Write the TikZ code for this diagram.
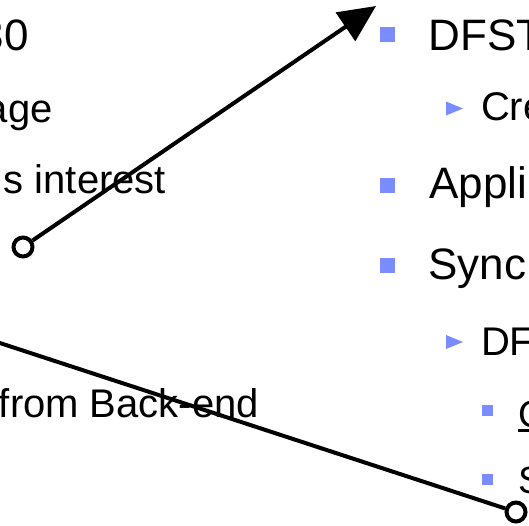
\documentclass[tikz,border=0pt]{standalone}
\usepackage{fontspec}
\setmainfont{Liberation Sans}
\usetikzlibrary{arrows.meta}
\definecolor{bulletblue}{RGB}{122,140,255}

\begin{document}
\begin{tikzpicture}[x=1pt,y=-1pt,
  txt/.style={inner sep=0pt, outer sep=0pt, font=\fontsize{#1}{#1}\selectfont},
  lefttxt/.style={txt=#1, anchor=base east},
  righttxt/.style={txt=#1, anchor=base west},
  sqbullet/.style={fill=bulletblue},
  tribullet/.style={fill=bulletblue},
  conn/.style={line width=4pt, draw=black},
  pin/.style={circle, draw=black, fill=white, line width=4pt,
    minimum size=19pt, inner sep=0pt},
  bigtip/.style={-{Triangle[length=37pt,width=34pt]}}
]
\clip (0,0) rectangle (529,525);

% left column of text
\node[lefttxt=44] (l1) at (28.5,50)  {30};
\node[lefttxt=40] (l2) at (52.5,122) {age};
\node[lefttxt=40] (l3) at (166,193)  {s interest};
\node[lefttxt=40] (l4) at (259,417)  {from Back-end};

% right column: first-level items
\fill[sqbullet] (380,27)  rectangle (395,42);
\node[righttxt=44] (r1) at (428.5,50)  {DFST};
\fill[sqbullet] (380,178) rectangle (395,193);
\node[righttxt=44] (r3) at (429.5,198)  {Appli};
\fill[sqbullet] (380,258) rectangle (395,273);
\node[righttxt=44] (r4) at (428.5,279) {Sync};

% second-level items
\fill[tribullet] (446,101.5) -- (463,108.5) -- (446,115.5) -- cycle;
\node[righttxt=40] (r2) at (481,120) {Cre};
\fill[tribullet] (446,335) -- (463,342) -- (446,349) -- cycle;
\node[righttxt=40] (r5) at (481,355) {DF};

% third-level items
\fill[sqbullet] (482,405) rectangle (493,416);
\node[righttxt=38] (r6) at (518,427) {G};
\draw[line width=2.5pt] ([yshift=-3.5pt]r6.base west) -- ([yshift=-3.5pt,xshift=10pt]r6.base east);
\fill[sqbullet] (482,474) rectangle (493,485);
\node[righttxt=38] (r7) at (518,493) {S};

% connectors
\node[pin] (p1) at (23,247) {};
\coordinate (tip) at (376,6);
\draw[conn, bigtip] (p1) -- (tip);

\node[pin] (p2) at (516,512) {};
\coordinate (west) at (-20,336.5);
\draw[conn] (west) -- (p2);
\end{tikzpicture}
\end{document}
